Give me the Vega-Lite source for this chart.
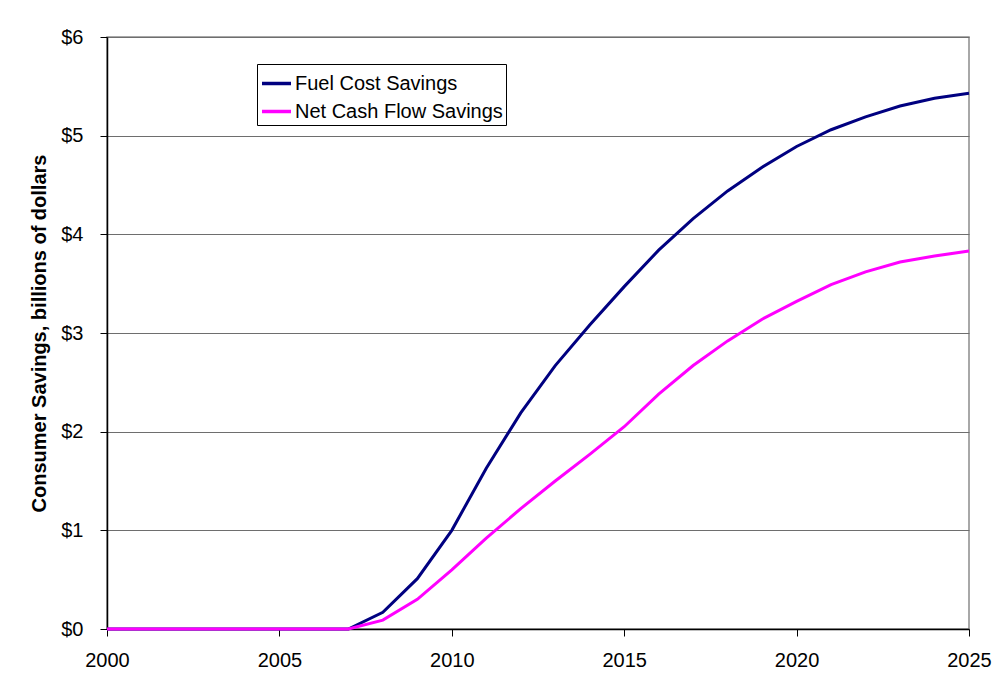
{
  "$schema": "https://vega.github.io/schema/vega-lite/v6.json",
  "width": 862,
  "height": 592,
  "autosize": {"type": "none"},
  "padding": {"left": 107, "top": 37, "right": 35, "bottom": 56},
  "background": "white",
  "config": {
    "font": "Liberation Sans",
    "view": {"stroke": "#8c8c8c", "strokeWidth": 1.5}
  },
  "data": {
    "values": [
      {"year": 2000, "series": "Fuel Cost Savings", "savings": 0},
      {"year": 2001, "series": "Fuel Cost Savings", "savings": 0},
      {"year": 2002, "series": "Fuel Cost Savings", "savings": 0},
      {"year": 2003, "series": "Fuel Cost Savings", "savings": 0},
      {"year": 2004, "series": "Fuel Cost Savings", "savings": 0},
      {"year": 2005, "series": "Fuel Cost Savings", "savings": 0},
      {"year": 2006, "series": "Fuel Cost Savings", "savings": 0},
      {"year": 2007, "series": "Fuel Cost Savings", "savings": 0},
      {"year": 2008, "series": "Fuel Cost Savings", "savings": 0.17},
      {"year": 2009, "series": "Fuel Cost Savings", "savings": 0.51},
      {"year": 2010, "series": "Fuel Cost Savings", "savings": 1.0},
      {"year": 2011, "series": "Fuel Cost Savings", "savings": 1.63},
      {"year": 2012, "series": "Fuel Cost Savings", "savings": 2.19},
      {"year": 2013, "series": "Fuel Cost Savings", "savings": 2.67},
      {"year": 2014, "series": "Fuel Cost Savings", "savings": 3.08},
      {"year": 2015, "series": "Fuel Cost Savings", "savings": 3.47},
      {"year": 2016, "series": "Fuel Cost Savings", "savings": 3.84},
      {"year": 2017, "series": "Fuel Cost Savings", "savings": 4.16},
      {"year": 2018, "series": "Fuel Cost Savings", "savings": 4.44},
      {"year": 2019, "series": "Fuel Cost Savings", "savings": 4.68},
      {"year": 2020, "series": "Fuel Cost Savings", "savings": 4.89},
      {"year": 2021, "series": "Fuel Cost Savings", "savings": 5.06},
      {"year": 2022, "series": "Fuel Cost Savings", "savings": 5.19},
      {"year": 2023, "series": "Fuel Cost Savings", "savings": 5.3},
      {"year": 2024, "series": "Fuel Cost Savings", "savings": 5.38},
      {"year": 2025, "series": "Fuel Cost Savings", "savings": 5.43},
      {"year": 2000, "series": "Net Cash Flow Savings", "savings": 0},
      {"year": 2001, "series": "Net Cash Flow Savings", "savings": 0},
      {"year": 2002, "series": "Net Cash Flow Savings", "savings": 0},
      {"year": 2003, "series": "Net Cash Flow Savings", "savings": 0},
      {"year": 2004, "series": "Net Cash Flow Savings", "savings": 0},
      {"year": 2005, "series": "Net Cash Flow Savings", "savings": 0},
      {"year": 2006, "series": "Net Cash Flow Savings", "savings": 0},
      {"year": 2007, "series": "Net Cash Flow Savings", "savings": 0},
      {"year": 2008, "series": "Net Cash Flow Savings", "savings": 0.09},
      {"year": 2009, "series": "Net Cash Flow Savings", "savings": 0.3},
      {"year": 2010, "series": "Net Cash Flow Savings", "savings": 0.6},
      {"year": 2011, "series": "Net Cash Flow Savings", "savings": 0.92},
      {"year": 2012, "series": "Net Cash Flow Savings", "savings": 1.22},
      {"year": 2013, "series": "Net Cash Flow Savings", "savings": 1.5},
      {"year": 2014, "series": "Net Cash Flow Savings", "savings": 1.77},
      {"year": 2015, "series": "Net Cash Flow Savings", "savings": 2.05},
      {"year": 2016, "series": "Net Cash Flow Savings", "savings": 2.38},
      {"year": 2017, "series": "Net Cash Flow Savings", "savings": 2.67},
      {"year": 2018, "series": "Net Cash Flow Savings", "savings": 2.92},
      {"year": 2019, "series": "Net Cash Flow Savings", "savings": 3.14},
      {"year": 2020, "series": "Net Cash Flow Savings", "savings": 3.32},
      {"year": 2021, "series": "Net Cash Flow Savings", "savings": 3.49},
      {"year": 2022, "series": "Net Cash Flow Savings", "savings": 3.62},
      {"year": 2023, "series": "Net Cash Flow Savings", "savings": 3.72},
      {"year": 2024, "series": "Net Cash Flow Savings", "savings": 3.78},
      {"year": 2025, "series": "Net Cash Flow Savings", "savings": 3.83}
    ]
  },
  "mark": {"type": "line", "strokeWidth": 3},
  "encoding": {
    "x": {
      "field": "year",
      "type": "quantitative",
      "scale": {"domain": [2000, 2025], "nice": false, "zero": false},
      "axis": {
        "values": [2000, 2005, 2010, 2015, 2020, 2025],
        "format": "d",
        "grid": false,
        "title": null,
        "domainColor": "black",
        "domainWidth": 1.5,
        "tickColor": "black",
        "tickSize": 7,
        "labelFontSize": 20,
        "labelColor": "black",
        "labelPadding": 14,
        "labelFlush": false
      }
    },
    "y": {
      "field": "savings",
      "type": "quantitative",
      "scale": {"domain": [0, 6], "nice": false},
      "axis": {
        "values": [0, 1, 2, 3, 4, 5, 6],
        "labelExpr": "'$' + datum.value",
        "gridColor": "#6e6e6e",
        "gridOpacity": 1,
        "domainColor": "black",
        "domainWidth": 1.5,
        "tickColor": "black",
        "tickSize": 7,
        "labelFontSize": 20,
        "labelColor": "black",
        "labelPadding": 17,
        "title": "Consumer Savings, billions of dollars",
        "titleFontSize": 20,
        "titleFontWeight": "bold",
        "titleColor": "black",
        "titlePadding": 11
      }
    },
    "color": {
      "field": "series",
      "type": "nominal",
      "scale": {
        "domain": ["Fuel Cost Savings", "Net Cash Flow Savings"],
        "range": ["#000080", "#ff00ff"]
      },
      "legend": {
        "title": null,
        "orient": "none",
        "legendX": 150,
        "legendY": 27,
        "fillColor": "white",
        "strokeColor": "black",
        "padding": 3,
        "symbolType": "stroke",
        "symbolSize": 841,
        "symbolStrokeWidth": 3.5,
        "labelFontSize": 20,
        "labelColor": "black",
        "labelOffset": 2,
        "labelLimit": 400,
        "rowPadding": 1
      }
    }
  }
}
